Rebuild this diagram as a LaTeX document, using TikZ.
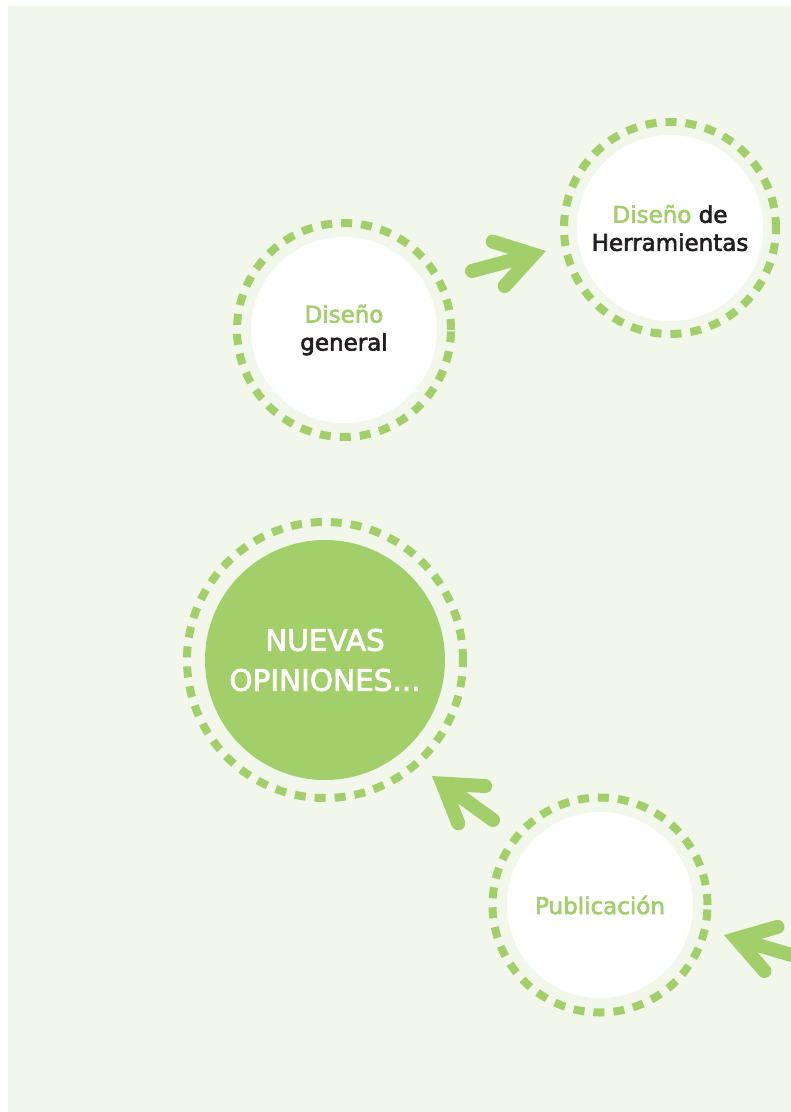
\documentclass[tikz,border=0pt]{standalone}
\usepackage{fontspec}
\setmainfont[FakeBold=2.6,AutoFakeBold=2.6]{DejaVu Sans}
\usetikzlibrary{arrows.meta}
\definecolor{verde}{RGB}{162,207,106}
\definecolor{fondo}{RGB}{242,247,235}
\definecolor{negro}{RGB}{35,31,32}

\begin{document}
\begin{tikzpicture}[x=1pt, y=-1pt]
	\tikzstyle{etapa}=[circle, fill=white, minimum size=186pt, inner sep=0pt, align=center, text=negro, font=\fontsize{23}{28}\selectfont\bfseries]
	\tikzstyle{anillo}=[draw=verde, line width=8pt, dash pattern=on 11pt off 9pt]
	\tikzstyle{flecha}=[draw=verde, line width=14pt, line cap=round, -{Straight Barb[length=36pt, width=46pt, line cap=round, line join=miter]}]

	\useasboundingbox (0,0) rectangle (791,1112);
	\fill[fondo] (8,6) rectangle (791,1112);

	% CIRCULOS
	\node[etapa] (DG) at (344,330) {\textcolor{verde}{Diseño}\\general};
	\node[etapa] (DH) at (670,228) {\textcolor{verde}{Diseño} de\\Herramientas};
	\node[etapa, fill=verde, text=white, minimum size=240pt, font=\fontsize{29.5}{40}\selectfont\bfseries] (NO) at (325,660) {NUEVAS\\OPINIONES...};
	\node[etapa, text=verde] (PU) at (600,905) {Publicación};

	% ANILLOS
	\foreach \n/\r in {DG/107, DH/106, NO/138, PU/107.5}
		\path[anillo] (\n.center) circle [radius=\r pt];

	% FLECHAS
	\coordinate (F1a) at (472,271);
	\coordinate (F1b) at (546,251);
	\coordinate (F2a) at (493,820);
	\coordinate (F2b) at (432,776);
	\coordinate (F3a) at (805,959);
	\coordinate (F3b) at (724,935);

	\begin{scope}
		\clip (8,6) rectangle (791,1112);
		\draw[flecha] (F1a) -- (F1b);
		\draw[flecha] (F2a) -- (F2b);
		\draw[flecha] (F3a) -- (F3b);
	\end{scope}
\end{tikzpicture}
\end{document}
